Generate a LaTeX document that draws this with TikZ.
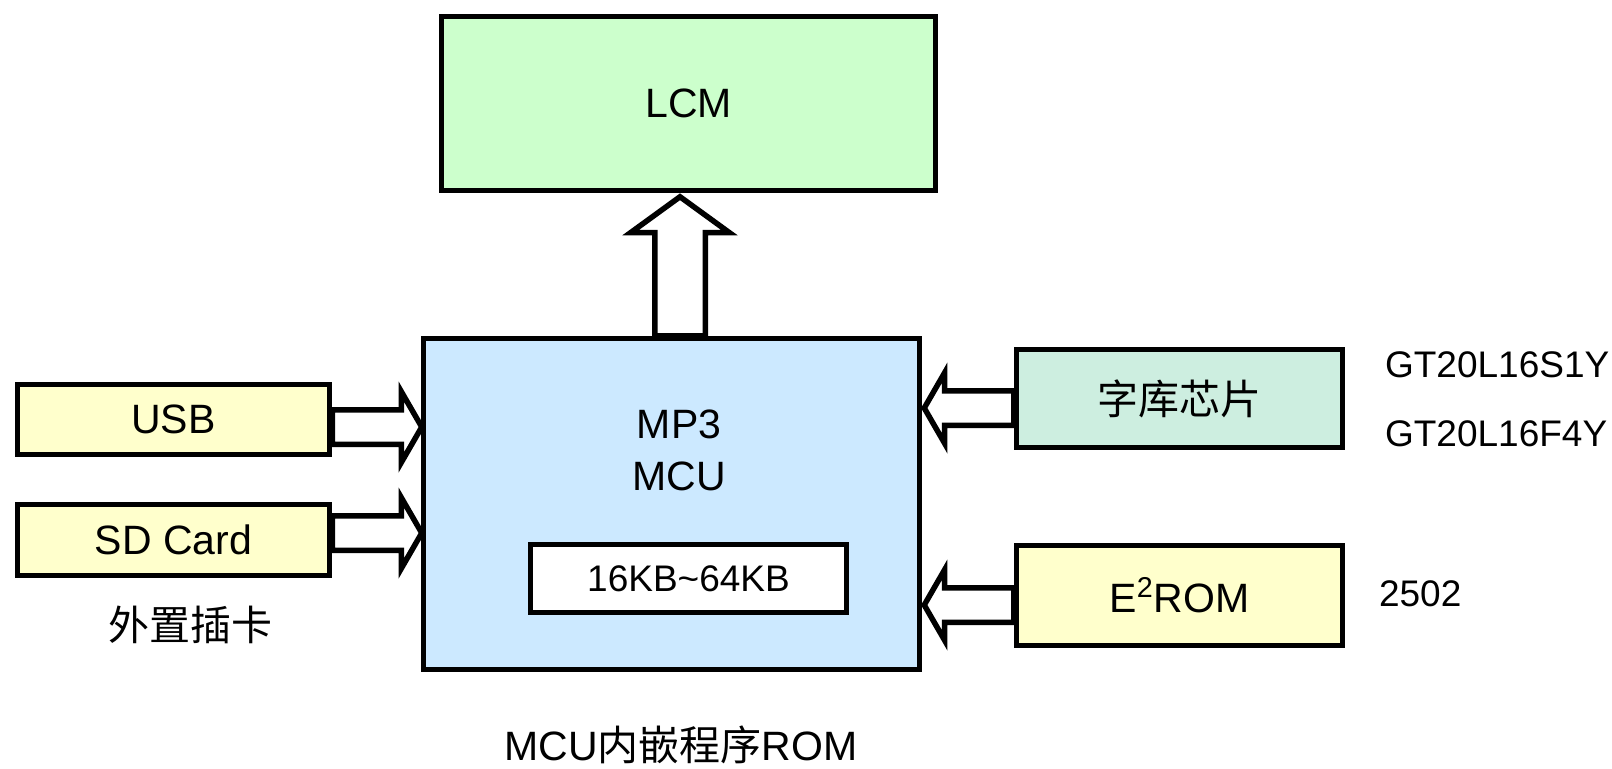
\documentclass[tikz,border=0pt]{standalone}
\usepackage{fontspec}
\setmainfont{Liberation Sans}
\newfontfamily\cjk{Noto Sans CJK SC}
\usetikzlibrary{shapes.arrows}
\usetikzlibrary{positioning,calc}

\definecolor{lcmgreen}{HTML}{CCFFCC}
\definecolor{mcublue}{HTML}{CCE9FF}
\definecolor{cardyellow}{HTML}{FFFFCC}
\definecolor{fontmint}{HTML}{CDEEE0}

\begin{document}
\begin{tikzpicture}[%
    x=0.5pt, y=-0.5pt,
    big/.style={font=\fontsize{20.5pt}{26pt}\selectfont},
    small/.style={font=\fontsize{18.5pt}{22pt}\selectfont},
    block/.style={draw,line width=2.75pt,inner sep=0pt,big},
    hollow/.style={draw,fill=white,line width=2.75pt,single arrow,anchor=tail},
    sidearr/.style={hollow,inner sep=7.25pt,minimum height=44.75pt,
        single arrow head extend=9pt,single arrow tip angle=120},
    uparr/.style={hollow,inner sep=11.25pt,minimum height=69.5pt,
        single arrow head extend=12pt,single arrow tip angle=108,shape border rotate=90}
]
        \useasboundingbox (0,0) rectangle (1612,768);

        % boxes
        \node[block,fill=lcmgreen,minimum width=247pt,minimum height=87pt] (lcm) at (688.5,103.5) {LCM};
        \node[block,fill=mcublue,minimum width=248pt,minimum height=165.5pt] (mcu) at (671.5,504) {};
        \node[big,align=center] (mcutext) at (679,450) {MP3\\MCU};
        \node[block,fill=white,minimum width=158pt,minimum height=34pt,small] (rom) at (688.5,578.5) {16KB\textasciitilde64KB};

        \node[block,fill=cardyellow,minimum width=156pt,minimum height=35pt] (usb) at (173.5,419.5) {USB};
        \node[block,fill=cardyellow,minimum width=156pt,minimum height=35.5pt] (sd) at (173.5,540) {SD Card};
        \node[big] (card) at (190,625) {\cjk 外置插卡};

        \node[block,fill=fontmint,minimum width=163pt,minimum height=49pt] (font) at (1179.5,398.5) {\cjk 字库芯片};
        \node[block,fill=cardyellow,minimum width=163pt,minimum height=50pt] (eeprom) at (1179.5,595.5) {E\textsuperscript{2}ROM};

        % part numbers
        \node[small,anchor=west] (gt1) at (1378,365) {GT20L16S1Y};
        \node[small,anchor=west] (gt2) at (1378,434) {GT20L16F4Y};
        \node[small,anchor=west] (ee) at (1372,594) {2502};

        \node[big] (caption) at (681,745) {MCU{\cjk 内嵌程序}ROM};

        % block arrows
        \node[uparr,yshift=-1.375pt] (lcmarr) at ($(mcu.north)+(8.5,0)$) {};
        \node[sidearr,xshift=-1.375pt,yshift=-3.75pt] (usbarr) at (usb.east) {};
        \node[sidearr,xshift=-1.375pt,yshift=3.5pt] (sdarr) at (sd.east) {};
        \node[sidearr,shape border rotate=180,xshift=1.375pt,yshift=-4.75pt] (fontarr) at (font.west) {};
        \node[sidearr,shape border rotate=180,xshift=1.375pt,yshift=-4.75pt] (eearr) at (eeprom.west) {};
\end{tikzpicture}
\end{document}
